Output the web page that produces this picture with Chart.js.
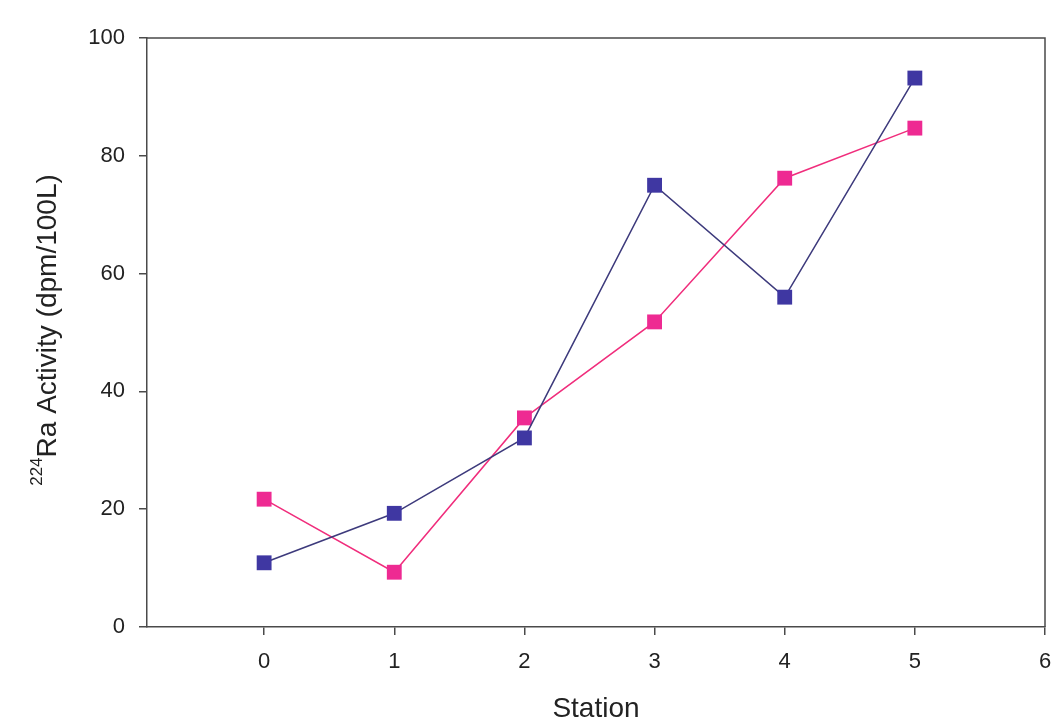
<!DOCTYPE html>
<html><head><meta charset="utf-8">
<script src="https://cdn.jsdelivr.net/npm/chart.js@4/dist/chart.umd.min.js"></script>
<style>html,body{margin:0;padding:0;background:#fff;}#wrap{width:1058px;height:723px;}</style>
</head><body><div id="wrap"><canvas id="c" width="1058" height="723"></canvas></div>
<script>
const stations = [0, 1, 2, 3, 4, 5];
const seriesBlue = [10.9, 19.3, 32.1, 75.0, 56.0, 93.2];
const seriesPink = [21.7, 9.3, 35.5, 51.8, 76.2, 84.7];
const xTicks = [0, 1, 2, 3, 4, 5, 6];
const yTicks = [0, 20, 40, 60, 80, 100];
const xTitle = 'Station';
const yTitleSup = '224';
const yTitleMain = 'Ra Activity (dpm/100L)';

const FONT = '"Liberation Sans", Arial, sans-serif';
const AXIS = '#4a4a4a';

const boxPlugin = {
  id: 'box',
  afterDraw(chart) {
    const {ctx, chartArea: a} = chart;
    ctx.save();
    ctx.strokeStyle = AXIS; ctx.lineWidth = 1.5;
    ctx.beginPath();
    ctx.moveTo(a.left, a.top); ctx.lineTo(a.right, a.top); ctx.lineTo(a.right, a.bottom);
    ctx.stroke();
    // y title with superscript
    const cy = 330;
    ctx.translate(0, cy); ctx.rotate(-Math.PI/2);
    ctx.fillStyle = '#222';
    ctx.font = '28px ' + FONT;
    const mainW = ctx.measureText(yTitleMain).width;
    ctx.font = '17px ' + FONT;
    const supW = ctx.measureText(yTitleSup).width;
    const total = mainW + supW;
    let x0 = -total/2;
    ctx.textBaseline = 'alphabetic';
    ctx.fillText(yTitleSup, x0, 42);
    ctx.font = '28px ' + FONT;
    ctx.fillText(yTitleMain, x0 + supW, 56);
    ctx.restore();
  }
};

const mk = (vals) => stations.map((s, i) => ({x: s, y: vals[i]}));

new Chart(document.getElementById('c'), {
  type: 'line',
  data: {
    datasets: [
      {data: mk(seriesBlue), borderColor: '#3d3a7c', borderWidth: 1.5, backgroundColor: '#3f37a2',
       pointStyle: 'rect', pointRadius: 10.5, pointBorderColor: '#3f37a2', pointBorderWidth: 0, pointHoverRadius: 10.5, tension: 0},
      {data: mk(seriesPink), borderColor: '#f02d7c', borderWidth: 1.5, backgroundColor: '#ee2a92',
       pointStyle: 'rect', pointRadius: 10.5, pointBorderColor: '#ee2a92', pointBorderWidth: 0, pointHoverRadius: 10.5, tension: 0}
    ]
  },
  options: {
    responsive: false, animation: false, events: [],
    layout: {padding: {top: 38, right: 13, left: 0, bottom: 0}},
    plugins: {legend: {display: false}, tooltip: {enabled: false}},
    scales: {
      x: {
        type: 'linear', min: -0.9, max: 6,
        afterBuildTicks(ax) { ax.ticks = xTicks.map(v => ({value: v})); },
        afterFit(ax) { ax.height = 96; ax.paddingRight = 0; ax.paddingLeft = 0; },
        border: {color: AXIS, width: 1.5},
        grid: {drawOnChartArea: false, drawTicks: true, tickLength: 8, color: AXIS, lineWidth: 1.5},
        ticks: {color: '#222', font: {family: FONT, size: 22}, padding: 14, maxRotation: 0},
        title: {display: true, text: xTitle, color: '#222', font: {family: FONT, size: 28, lineHeight: 1}, padding: {top: 10, bottom: 0}}
      },
      y: {
        type: 'linear', min: 0, max: 100,
        afterBuildTicks(ax) { ax.ticks = yTicks.map(v => ({value: v})); },
        afterFit(ax) { ax.width = 147; ax.paddingTop = 0; ax.paddingBottom = 0; },
        border: {color: AXIS, width: 1.5},
        grid: {drawOnChartArea: false, drawTicks: true, tickLength: 8, color: AXIS, lineWidth: 1.5},
        ticks: {color: '#222', font: {family: FONT, size: 22}, padding: 14}
      }
    }
  },
  plugins: [boxPlugin]
});
</script></body></html>
